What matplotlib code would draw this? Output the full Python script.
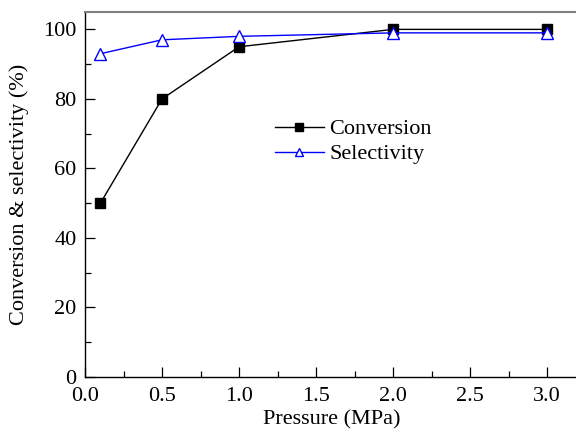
import matplotlib
matplotlib.use("Agg")
import matplotlib.pyplot as plt
from matplotlib.ticker import MultipleLocator

plt.rcParams['font.family'] = ['Liberation Serif', 'DejaVu Serif']

pressure = [0.1, 0.5, 1.0, 2.0, 3.0]
conversion = [50, 80, 95, 100, 100]
selectivity = [93, 97, 98, 99, 99]

fig = plt.figure(figsize=(5.76, 4.37), dpi=100)
ax = fig.add_axes([85/576, 60/437, 493/576, 365/437])

ax.plot(pressure, conversion, color='black', lw=1.0, marker='s', ms=7,
        mfc='black', mec='black', label='Conversion')
ax.plot(pressure, selectivity, color='blue', lw=1.0, marker='^', ms=8,
        mfc='white', mec='blue', mew=1.0, label='Selectivity')

ax.set_xlim(0, 3.2)
ax.set_ylim(0, 105)
ax.xaxis.set_major_locator(MultipleLocator(0.5))
ax.xaxis.set_minor_locator(MultipleLocator(0.25))
ax.yaxis.set_major_locator(MultipleLocator(20))
ax.yaxis.set_minor_locator(MultipleLocator(10))
ax.tick_params(which='both', direction='in', top=False, right=False, labelsize=16)
ax.tick_params(axis='x', pad=7)
ax.tick_params(axis='y', pad=6)
ax.tick_params(which='major', length=7, width=0.9)
ax.tick_params(which='minor', length=4, width=0.9)
ax.xaxis.set_major_formatter(matplotlib.ticker.FormatStrFormatter('%.1f'))

ax.spines['right'].set_visible(False)
ax.spines['top'].set_color('gray')
ax.spines['top'].set_linewidth(1.5)
for s in ('left', 'bottom'):
    ax.spines[s].set_linewidth(1.0)

ax.set_xlabel('Pressure (MPa)', fontsize=16, labelpad=3)
ax.set_ylabel('Conversion & selectivity (%)', fontsize=16, labelpad=10)

ax.legend(loc='upper left', bbox_to_anchor=(181/493, 1 - 98/365), frameon=False,
          fontsize=16, handlelength=2.2, handletextpad=0.25, labelspacing=0.2,
          borderaxespad=0, markerscale=0.75)

fig.savefig('out.png', dpi=100)
